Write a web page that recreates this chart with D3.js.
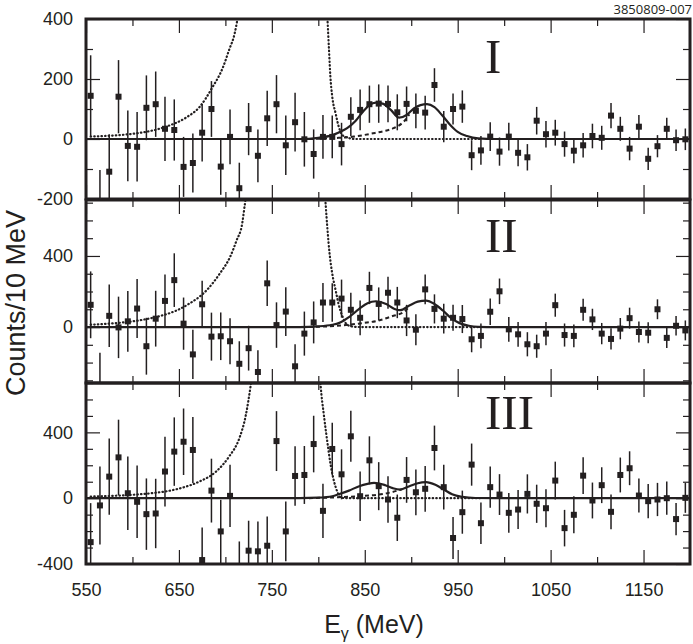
<!DOCTYPE html>
<html>
<head>
<meta charset="utf-8">
<script src="https://cdn.jsdelivr.net/npm/d3@7"></script>
<style>
    body { margin: 0; background: #fff; }
    svg text { font-family: "Liberation Sans", Arial, sans-serif; fill: #231f20; }
</style>
</head>
<body>
<div id="chart"></div>
<script>
// photon energy bin centres (MeV), 10 MeV bins
const energies = [555, 565, 575, 585, 595, 605, 615, 625, 635, 645, 655, 665, 675, 685, 695, 705,
    715, 725, 735, 745, 755, 765, 775, 785, 795, 805, 815, 825, 835, 845, 855, 865, 875, 885, 895,
    905, 915, 925, 935, 945, 955, 965, 975, 985, 995, 1005, 1015, 1025, 1035, 1045, 1055, 1065,
    1075, 1085, 1095, 1105, 1115, 1125, 1135, 1145, 1155, 1165, 1175, 1185, 1195];

// panel I
const countsI = [144, -233, -109, 141, -23, -26, 104, 116, 34, 30, -93, -80, 21, 100, -92, 7,
    -164, 33, -56, 69, 116, -21, 56, -1, -50, 7, 7, -17, 74, 97, 116, 118, 117, 89, 117,
    94, 88, 180, 41, 100, 108, -54, -38, 8, -42, 8, -46, -61, 61, 16, 21, -17,
    -39, -21, 10, 4, 78, 34, -32, 41, -66, -24, 34, -4, -1];
const errorsI = [135, 130, 125, 122, 118, 116, 108, 109, 107, 102, 100, 98, 96, 93, 94, 91,
    85, 87, 88, 92, 97, 99, 98, 91, 82, 73, 71, 71, 65, 68, 62, 64, 61, 60, 58,
    58, 56, 56, 52, 52, 54, 50, 48, 48, 47, 46, 45, 44, 46, 44, 43, 42,
    42, 41, 41, 40, 42, 40, 39, 39, 37, 37, 37, 36, 36];

// panel II
const countsII = [125, -330, 63, -2, 32, 104, -108, 47, 147, 264, 19, -154, 128, -54, -52, -80,
    -207, -119, -253, 246, 11, 87, -221, -37, 26, 138, 138, 160, 97, 52, 220, 130, 193, 138, 37,
    -15, 212, 102, 47, 52, 45, -69, -50, 86, 201, -13, -41, -97, -108, -37, 123, -45,
    -50, 97, 43, -37, -67, -9, 50, -28, -32, 100, -61, 7, -19];
const errorsII = [188, 185, 176, 173, 171, 166, 160, 157, 149, 151, 147, 139, 132, 135, 134, 130,
    127, 126, 123, 128, 128, 137, 124, 124, 118, 110, 108, 107, 96, 98, 91, 93, 90, 88, 88,
    87, 84, 82, 84, 73, 79, 73, 70, 74, 72, 70, 70, 68, 65, 65, 65, 65,
    64, 62, 60, 60, 60, 60, 59, 59, 59, 56, 57, 55, 56];

// panel III
const countsIII = [-267, -44, 131, 248, 30, -22, -97, -93, 162, 283, 343, 293, -376, 46, -202, 14,
    -448, -319, -323, -289, 347, -202, 135, 141, 329, -77, 299, 145, 376, 12, 230, 73, -8, -119, 111,
    36, 57, 305, 67, -242, -85, 204, -152, 67, 22, -89, -69, 26, -34, -61, 107, -182,
    -101, 137, -14, 79, -83, 141, 182, 16, -18, -8, 0, -127, 2];
const errorsIII = [237, 237, 232, 229, 224, 220, 217, 211, 212, 208, 202, 200, 198, 194, 192, 189,
    185, 182, 182, 178, 182, 182, 181, 176, 172, 165, 159, 152, 155, 150, 146, 146, 141, 141, 139,
    139, 139, 136, 136, 128, 131, 128, 126, 125, 124, 121, 118, 119, 116, 116, 115, 111,
    112, 111, 109, 109, 106, 106, 103, 103, 104, 101, 101, 98, 91];

// fitted curves, [E, counts]
const fitI = [[550, 0], [780, 0], [800, 4], [815, 13], [822, 22], [831, 36], [840, 60], [848, 91],
    [855, 113], [862, 121], [870, 117], [878, 97], [887, 71], [895, 80], [903, 102], [910, 113],
    [917, 116], [925, 106], [933, 80], [942, 47], [950, 24], [960, 10], [972, 2], [990, 0], [1200, 0]];
const fitII = [[550, 0], [780, 0], [800, 4], [815, 13], [822, 22], [833, 56], [844, 102], [853, 134],
    [862, 145], [873, 130], [882, 102], [888, 95], [898, 121], [907, 143], [916, 149], [925, 130],
    [934, 93], [943, 50], [952, 22], [962, 7], [972, 1], [990, 0], [1200, 0]];
const fitIII = [[550, 0], [780, 0], [800, 3], [815, 12], [822, 24], [833, 46], [844, 73], [853, 87],
    [860, 93], [871, 81], [880, 61], [888, 52], [898, 73], [907, 91], [916, 97], [926, 81],
    [935, 53], [944, 24], [955, 8], [969, 1], [990, 0], [1200, 0]];

const tailI = [[790, 0], [822, 4], [838, 8], [859, 19], [870, 26], [881, 36], [892, 58], [898, 82]];
const tailII = [[790, 0], [825, 9], [843, 19], [865, 37], [879, 60], [893, 89], [897, 110]];
const tailIII = [[790, 0], [822, 6], [843, 12], [865, 22], [880, 38], [890, 54]];

const lowBkgI = [[555, 8], [611, 22], [636, 41], [658, 72], [672, 106], [686, 172], [697, 236],
    [704, 297], [710, 352], [713, 399], [716, 450]];
const lowBkgII = [[555, 13], [620, 50], [659, 125], [680, 208], [694, 301], [705, 394], [712, 487],
    [718, 580], [721, 692], [723, 760]];
const lowBkgIII = [[555, 10], [620, 30], [652, 61], [672, 101], [690, 162], [704, 253], [715, 364],
    [722, 505], [727, 677], [729, 760]];

const highBkgI = [[809, 450], [810, 391], [811.5, 297], [813, 208], [815, 141], [818.6, 86],
    [822, 41], [826, 13], [831, 5], [840, 0], [975, 0]];
const highBkgII = [[807, 760], [808, 683], [810, 540], [812, 420], [815, 301], [818.6, 208],
    [822, 125], [826, 60], [831, 13], [838, 2], [845, 0], [975, 0]];
const highBkgIII = [[802, 720], [802.6, 677], [806, 505], [809.7, 343], [813.3, 202], [817, 101],
    [820.4, 40], [824, 4], [830, 0], [975, 0]];

const xLabels = [550, 650, 750, 850, 950, 1050, 1150];
const xMinor = [600, 700, 800, 900, 1000, 1100];
const yLabelsI = [-200, 0, 200, 400];
const yLabelsII = [0, 400];
const yLabelsIII = [-400, 0, 400];

const width = 693, height = 644;
const left = 86, right = 690;
const ink = "#231f20";

let svg = d3.select("#chart")
    .append("svg")
    .attr("width", width)
    .attr("height", height);

let x = d3.scaleLinear()
    .domain([550, 1200])
    .range([left, right]);

const panels = [
    { name: "I", top: 19, bottom: 199, domain: [-200, 400], labels: yLabelsI, minorStep: 100,
      counts: countsI, errors: errorsI, fit: fitI, tail: tailI, low: lowBkgI, high: highBkgI, nameY: 73 },
    { name: "II", top: 200, bottom: 383, domain: [-315, 715], labels: yLabelsII, minorStep: 100,
      counts: countsII, errors: errorsII, fit: fitII, tail: tailII, low: lowBkgII, high: highBkgII, nameY: 252 },
    { name: "III", top: 383, bottom: 564, domain: [-400, 700], labels: yLabelsIII, minorStep: 100,
      counts: countsIII, errors: errorsIII, fit: fitIII, tail: tailIII, low: lowBkgIII, high: highBkgIII, nameY: 429 }
];

// plain hyphen for negatives, as in the original
const plain = d => String(d);

function styleTicks(g) {
    g.select(".domain").remove();
    g.selectAll(".tick line").attr("stroke", ink).attr("stroke-width", 1.2);
    g.selectAll(".tick text").style("font-size", "18px").attr("fill", ink);
}

panels.forEach((p, i) => {
    let y = d3.scaleLinear().domain(p.domain).range([p.bottom, p.top]);
    let clipId = "clip" + i;
    svg.append("clipPath").attr("id", clipId)
        .append("rect")
        .attr("x", left).attr("y", p.top)
        .attr("width", right - left).attr("height", p.bottom - p.top);

    // x ticks, top and bottom, pointing inwards
    [[d3.axisTop, p.top], [d3.axisBottom, p.bottom]].forEach(([axisFn, yPos]) => {
        svg.append("g").attr("transform", `translate(0, ${yPos})`)
            .call(axisFn(x).tickValues(xMinor).tickSize(-7).tickFormat(""))
            .call(styleTicks);
        let showLabels = (i === panels.length - 1 && axisFn === d3.axisBottom);
        svg.append("g").attr("transform", `translate(0, ${yPos})`)
            .call(axisFn(x).tickValues(xLabels).tickSize(-14).tickPadding(19)
                .tickFormat(showLabels ? plain : ""))
            .call(styleTicks);
    });

    // y ticks, left and right
    let minor = d3.range(Math.ceil(p.domain[0] / p.minorStep) * p.minorStep, p.domain[1] + 1, p.minorStep)
        .filter(v => !p.labels.includes(v));
    svg.append("g").attr("transform", `translate(${left}, 0)`)
        .call(d3.axisLeft(y).tickValues(minor).tickSize(-7).tickFormat(""))
        .call(styleTicks);
    svg.append("g").attr("transform", `translate(${left}, 0)`)
        .call(d3.axisLeft(y).tickValues(p.labels).tickSize(-14).tickPadding(13).tickFormat(plain))
        .call(styleTicks);
    svg.append("g").attr("transform", `translate(${right}, 0)`)
        .call(d3.axisRight(y).tickValues(minor).tickSize(-7).tickFormat(""))
        .call(styleTicks);
    svg.append("g").attr("transform", `translate(${right}, 0)`)
        .call(d3.axisRight(y).tickValues(p.labels).tickSize(-14).tickFormat(""))
        .call(styleTicks);

    let plot = svg.append("g").attr("clip-path", `url(#${clipId})`);
    let line = d3.line()
        .x(d => x(d[0]))
        .y(d => y(d[1]))
        .curve(d3.curveMonotoneX);

    // background shapes (dotted)
    [p.low, p.high].forEach(curve => {
        plot.append("path")
            .datum(curve)
            .attr("d", line)
            .attr("fill", "none")
            .attr("stroke", ink)
            .attr("stroke-width", 2.2)
            .attr("stroke-linecap", "round")
            .attr("stroke-dasharray", "0.5,3.1");
    });

    // single-peak component (dashed)
    plot.append("path")
        .datum(p.tail)
        .attr("d", line)
        .attr("fill", "none")
        .attr("stroke", ink)
        .attr("stroke-width", 2)
        .attr("stroke-dasharray", "4,3");

    // full fit (solid)
    plot.append("path")
        .datum(p.fit)
        .attr("d", line)
        .attr("fill", "none")
        .attr("stroke", ink)
        .attr("stroke-width", 2.2);

    let pts = energies.map((e, k) => ({ e: e, v: p.counts[k], err: p.errors[k] }));

    plot.selectAll(".err")
        .data(pts)
        .enter()
        .append("line")
        .attr("class", "err")
        .attr("x1", d => x(d.e))
        .attr("x2", d => x(d.e))
        .attr("y1", d => y(d.v - d.err))
        .attr("y2", d => y(d.v + d.err))
        .attr("stroke", ink)
        .attr("stroke-width", 1.5);

    plot.selectAll(".pt")
        .data(pts)
        .enter()
        .append("rect")
        .attr("class", "pt")
        .attr("x", d => x(d.e) - 3)
        .attr("y", d => y(d.v) - 3)
        .attr("width", 6)
        .attr("height", 6)
        .attr("fill", ink);

    // frame
    svg.append("rect")
        .attr("x", left).attr("y", p.top)
        .attr("width", right - left).attr("height", p.bottom - p.top)
        .attr("fill", "none")
        .attr("stroke", ink)
        .attr("stroke-width", 3);

    svg.append("text")
        .attr("x", 485)
        .attr("y", p.nameY)
        .style("font-family", "'Liberation Serif', 'Times New Roman', serif")
        .style("font-size", "49px")
        .text(p.name);
});

// axis titles
let xTitle = svg.append("text")
    .attr("x", 374)
    .attr("y", 633)
    .style("text-anchor", "middle")
    .style("font-size", "25px");
xTitle.append("tspan").text("E");
xTitle.append("tspan").attr("dy", 6).style("font-size", "16px").text("\u03b3");
xTitle.append("tspan").attr("dy", -6).text(" (MeV)");

svg.append("text")
    .attr("transform", `translate(25, 303) rotate(-90)`)
    .style("text-anchor", "middle")
    .style("font-size", "27px")
    .text("Counts/10 MeV");

svg.append("text")
    .attr("x", 692)
    .attr("y", 14)
    .style("text-anchor", "end")
    .style("font-family", "'Open Sans', sans-serif")
    .style("font-size", "13px")
    .text("3850809-007");
</script>
</body>
</html>
